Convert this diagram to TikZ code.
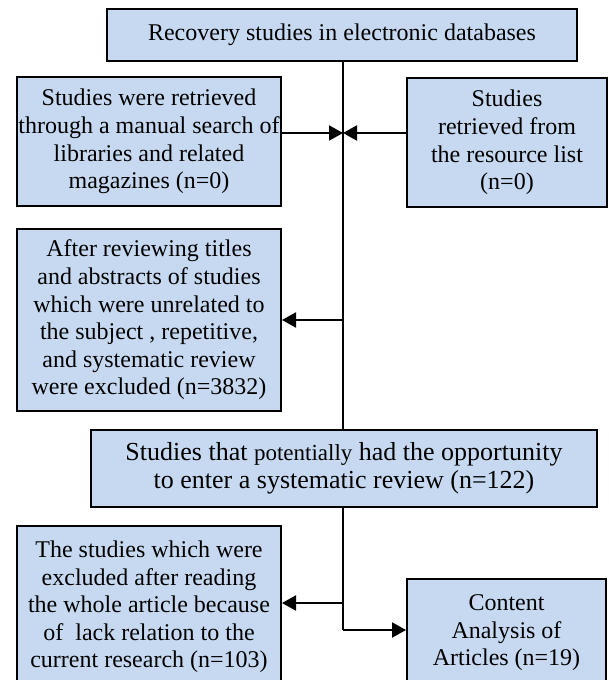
\documentclass[tikz,border=0pt]{standalone}
\usepackage{fontspec}
\setmainfont{Liberation Serif}
\usetikzlibrary{arrows.meta}

\newlength{\du}
\setlength{\du}{1pt}
\definecolor{boxfillcolor}{rgb}{0.776, 0.851, 0.945}
\definecolor{dialinecolor}{rgb}{0.000000, 0.000000, 0.000000}

\tikzset{
  flowbox/.style={draw=dialinecolor, fill=boxfillcolor, line width=2\du,
    inner sep=0pt, align=center, font=\fontsize{24}{27.6}\selectfont},
  flowline/.style={draw=dialinecolor, line width=2\du},
  flowarrow/.style={flowline, -{Triangle[length=14pt, width=15pt]}}
}

\begin{document}
\begin{tikzpicture}[x=1\du, y=-1\du]
\useasboundingbox (0,0) rectangle (609,680);
\clip (0,0) rectangle (609,680);

% boxes
\node[flowbox, minimum width=470\du, minimum height=52\du] (db) at (342,35)
  {Recovery studies in electronic databases};
\node[flowbox, minimum width=264\du, minimum height=129\du] (manual) at (149,141.5)
  {Studies were retrieved\\through a manual search of\\libraries and related\\magazines (n=0)};
\node[flowbox, minimum width=200\du, minimum height=129\du] (reslist) at (507,142.5)
  {Studies\\retrieved from\\the resource list\\(n=0)};
\node[flowbox, minimum width=264\du, minimum height=182\du] (screen) at (149,320)
  {After reviewing titles\\and abstracts of studies\\which were unrelated to\\the subject , repetitive,\\and systematic review\\were excluded (n=3832)};
\node[flowbox, minimum width=506\du, minimum height=77\du,
  font=\fontsize{26}{28.5}\selectfont] (potential) at (344,468.5)
  {Studies that {\fontsize{23}{28.5}\selectfont potentially} had the opportunity\\to enter a systematic review (n=122)};
\node[flowbox, minimum width=264\du, minimum height=162\du] (fulltext) at (149,607)
  {The studies which were\\excluded after reading\\the whole article because\\of\ \ lack relation to the\\current research (n=103)};
\node[flowbox, minimum width=199\du, minimum height=108\du] (content) at (506.5,633)
  {Content\\Analysis of\\Articles (n=19)};

% points on the main line
\coordinate (j1) at (343,133);
\coordinate (j2) at (343,320);
\coordinate (j3) at (343,603);
\coordinate (j4) at (343,630);

% connectors
\draw[flowline] (db.south -| j1) -- (potential.north -| j1);
\draw[flowline] (potential.south -| j1) -- (j4);
\draw[flowarrow] (manual.east |- j1) -- (j1);
\draw[flowarrow] (reslist.west |- j1) -- (j1);
\draw[flowarrow] (j2) -- (screen.east |- j2);
\draw[flowarrow] (j3) -- (fulltext.east |- j3);
\draw[flowarrow] (j4) -- (content.west |- j4);
\end{tikzpicture}
\end{document}
